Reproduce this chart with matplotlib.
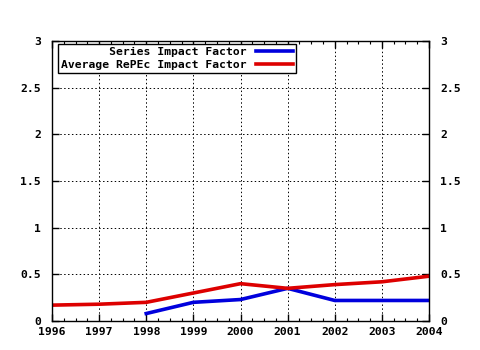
import matplotlib
matplotlib.use("Agg")
import matplotlib.pyplot as plt
from matplotlib.ticker import MultipleLocator

years = [1996, 1997, 1998, 1999, 2000, 2001, 2002, 2003, 2004]
series_years = [1998, 1999, 2000, 2001, 2002, 2003, 2004]
series_if = [0.08, 0.20, 0.23, 0.35, 0.22, 0.22, 0.22]
avg_if = [0.17, 0.18, 0.20, 0.30, 0.40, 0.35, 0.39, 0.42, 0.48]
yticks = [0, 0.5, 1, 1.5, 2, 2.5, 3]
yticklabels = ["0", "0.5", "1", "1.5", "2", "2.5", "3"]
labels = ["Series Impact Factor", "Average RePEc Impact Factor"]

plt.rcParams['font.family'] = 'DejaVu Sans Mono'
plt.rcParams['font.weight'] = 'bold'
plt.rcParams['font.size'] = 8.2

fig = plt.figure(figsize=(4.8, 3.5), dpi=100)
ax = fig.add_axes([52/480, 1-321/350, (429-52)/480, (321-41)/350])

w = max(len(l) for l in labels)
ax.plot(series_years, series_if, color='#0000dd', lw=2.6, label=labels[0].rjust(w))
ax.plot(years, avg_if, color='#dd0000', lw=2.6, label=labels[1].rjust(w))

ax.set_xlim(1996, 2004)
ax.set_ylim(0, 3)
ax.set_xticks(years)
ax.set_xticklabels([str(y) for y in years])
ax.xaxis.set_minor_locator(MultipleLocator(0.25))
ax.set_yticks(yticks)
ax.set_yticklabels(yticklabels)
ax.grid(True, which='major', color='black', linestyle=(0, (1.5, 2.5)), linewidth=0.7)
ax.tick_params(which='major', direction='in', top=True, right=True, labelright=True,
               length=5, width=1, pad=8, colors='black')
ax.tick_params(which='minor', direction='in', top=True, bottom=True, length=2.5, width=0.8)
ax.tick_params(axis='x', which='major', pad=4)
for s in ax.spines.values():
    s.set_linewidth(1)

leg = ax.legend(loc='upper left', bbox_to_anchor=(6/377, 1-3/280), markerfirst=False,
                frameon=True, fancybox=False, edgecolor='black', framealpha=1,
                borderpad=0.25, labelspacing=0.25, handlelength=3.3, handletextpad=0.8,
                borderaxespad=0)
leg.get_frame().set_linewidth(1)

fig.savefig("out.png", dpi=100)
